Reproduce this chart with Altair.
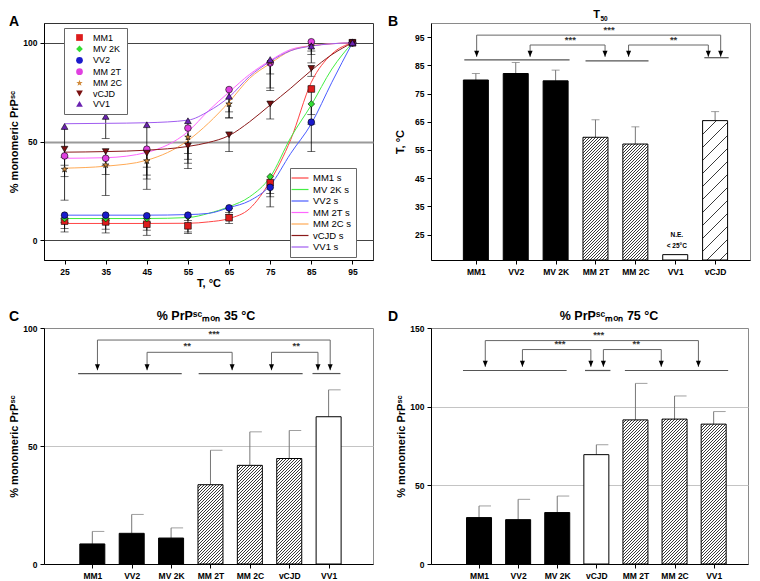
import altair as alt
import pandas as pd

FONT = "Liberation Sans"

# ---------------- Panel A data ----------------
TEMPS = [25, 35, 45, 55, 65, 75, 85, 95]
SERIES = ["MM1", "MV 2K", "VV2", "MM 2T", "MM 2C", "vCJD", "VV1"]
A_MM1 = [9.7, 9.3, 8.1, 7.3, 11.4, 29.2, 76.6, 100]
A_MV2K = [11.0, 11.0, 11.0, 11.9, 16.1, 32.2, 69.0, 100]
A_VV2 = [12.7, 12.7, 12.4, 12.7, 16.4, 26.8, 59.8, 100]
A_MM2T = [42.7, 41.5, 46.1, 56.8, 76.3, 89.8, 100.5, 100]
A_MM2C = [35.9, 38.1, 40.2, 52.2, 69.0, 90.3, 98.3, 100]
A_VCJD = [46.1, 44.9, 44.1, 47.8, 53.4, 69.0, 87.0, 100]
A_VV1 = [57.6, 62.7, 58.5, 60.5, 72.9, 91.5, 98.3, 100]
# lower ends of the error bars
L_MM1 = [4.2, 3.7, 2.5, 3.4, 8.5, 16.9, 63.6, 100]
L_MV2K = [5.9, 5.6, 5.1, 4.2, 13.0, 23.7, 58.8, 100]
L_VV2 = [9.0, 10.0, 9.0, 10.0, 14.0, 22.0, 44.9, 100]
L_MM2T = [38.0, 33.3, 33.0, 39.0, 65.0, 84.2, 95.8, 100]
L_MM2C = [32.2, 22.7, 31.0, 36.3, 61.9, 77.1, 94.0, 100]
L_VCJD = [42.0, 37.9, 37.0, 41.0, 44.9, 61.4, 83.0, 100]
L_VV1 = [20.3, 51.5, 25.8, 43.9, 62.0, 75.8, 89.8, 100]
# fitted sigmoid curves
FIT_T = [25, 35, 45, 55, 60, 65, 70, 75, 80, 85, 90, 95]
F_MM1 = [8.5, 8.5, 8.5, 8.6, 9.3, 11.0, 16.0, 30.0, 51.0, 80.0, 94.3, 100]
F_MV2K = [11.0, 11.0, 11.0, 11.5, 13.6, 17.0, 22.0, 32.0, 52.0, 68.5, 86.7, 100]
F_VV2 = [12.7, 12.7, 12.7, 13.0, 13.6, 16.5, 20.0, 27.8, 44.0, 59.0, 80.0, 100]
F_MM2T = [41.5, 41.8, 44.5, 55.0, 65.6, 75.0, 84.0, 91.0, 96.6, 98.5, 99.5, 100]
F_MM2C = [36.5, 37.5, 40.5, 50.5, 59.3, 70.0, 82.0, 89.5, 96.0, 98.5, 99.5, 100]
F_VCJD = [44.6, 44.9, 45.6, 47.5, 49.5, 53.0, 60.0, 68.5, 77.0, 86.0, 94.0, 100]
F_VV1 = [59.0, 59.2, 59.5, 60.8, 65.3, 72.5, 83.0, 90.5, 96.0, 98.3, 99.5, 100]

PT_COLORS = ["#dd1c1c", "#33dd33", "#1a1acc", "#e040e0", "#d08a3a", "#7a1010", "#6a22b0"]
LINE_COLORS = ["#ff4444", "#44ee44", "#4a5cff", "#ff66ff", "#ffaa55", "#8b1a1a", "#a05cf0"]
STAR = ("M0,-1L0.235,-0.324L0.951,-0.309L0.38,0.124L0.588,0.809L0,0.4L-0.588,0.809"
        "L-0.38,0.124L-0.951,-0.309L-0.235,-0.324Z")
SHAPES = ["square", "diamond", "circle", "circle", STAR, "triangle-down", "triangle-up"]

# ---------------- Panel B data ----------------
B_CATS = ["MM1", "VV2", "MV 2K", "MM 2T", "MM 2C", "VV1", "vCJD"]
B_VALS = [79.8, 82.1, 79.5, 59.5, 57.1, 17.9, 65.4]
B_ERR = [82.1, 86.0, 83.3, 65.7, 63.2, None, 68.6]
B_FILL = ["solid", "solid", "solid", "dense", "dense", "open", "sparse"]
B_GRP_X1 = [0.71, 3.75, 6.73]
B_GRP_X2 = [3.35, 5.33, 7.34]
B_GRP_Y = [86.9, 86.6, 87.7]
B_BRK_X1 = [1.02, 2.36, 4.83]
B_BRK_X2 = [7.14, 4.24, 6.83]
B_BRK_Y = [95.7, 92.2, 92.2]
B_SIG = ["***", "***", "**"]
B_SIG_X = [4.34, 3.37, 5.96]
B_SIG_Y = [97.6, 94.1, 94.1]
B_TIP = 88.0
B_NOTE = ["N.E.", "< 25°C"]
B_NOTE_Y = [24.9, 21.1]

# ---------------- Panel C data ----------------
C_CATS = ["MM1", "VV2", "MV 2K", "MM 2T", "MM 2C", "vCJD", "VV1"]
C_VALS = [8.5, 13.0, 11.0, 33.6, 41.8, 44.7, 62.4]
C_ERR = [13.8, 21.0, 15.3, 48.2, 56.0, 56.6, 73.8]
C_FILL = ["solid", "solid", "solid", "dense", "dense", "dense", "open"]
C_GRP_X1 = [0.64, 3.70, 6.59]
C_GRP_X2 = [3.27, 6.34, 7.30]
C_GRP_Y = [80.7, 80.7, 80.7]
C_BRK_X1 = [1.13, 2.39, 5.55]
C_BRK_X2 = [7.04, 4.55, 6.73]
C_BRK_Y = [94.9, 89.7, 89.7]
C_SIG = ["***", "**", "**"]
C_SIG_X = [4.09, 3.41, 6.18]
C_SIG_Y = [97.6, 92.3, 92.3]
C_TIP = 82.1

# ---------------- Panel D data ----------------
D_CATS = ["MM1", "VV2", "MV 2K", "vCJD", "MM 2T", "MM 2C", "VV1"]
D_VALS = [29.5, 28.2, 32.7, 69.5, 91.6, 92.1, 88.9]
D_ERR = [36.9, 41.1, 43.2, 75.8, 114.8, 106.8, 96.9]
D_FILL = ["solid", "solid", "solid", "open", "dense", "dense", "dense"]
D_GRP_X1 = [0.59, 3.71, 4.73]
D_GRP_X2 = [3.24, 4.36, 7.37]
D_GRP_Y = [123.0, 123.0, 123.0]
D_BRK_X1 = [1.16, 2.11, 4.18]
D_BRK_X2 = [6.61, 3.86, 5.66]
D_BRK_Y = [142.0, 136.3, 136.3]
D_SIG = ["***", "***", "**"]
D_SIG_X = [4.06, 3.07, 5.02]
D_SIG_Y = [145.4, 139.7, 139.7]
D_TIP = 125.3

BAR_W = 25
ARROW = "M-1,-2.4L1,-2.4L0,0Z"
LEG_LINE = "M-2,0L2,0"
YTITLE = "% monomeric PrPˢᶜ"


def hatch(w, h, period, frac, dark="#3a3a3a", light="#ffffff"):
    """Diagonal '/' stripes as a linear gradient in bounding-box units."""
    h = max(h, 1.0)
    c = h * (w + h) / (w * w + h * h)
    span = w + h
    P = period / span
    stops = []
    k = 0
    while k * P < 1 - 1e-9:
        s = k * P
        e = min(s + frac * P, 1.0)
        n = min(s + P, 1.0)
        stops += [{"offset": round(s, 6), "color": dark},
                  {"offset": round(e, 6), "color": dark},
                  {"offset": round(e, 6), "color": light},
                  {"offset": round(n, 6), "color": light}]
        k += 1
    return {"gradient": "linear", "x1": 0, "y1": 0,
            "x2": round(c * w / h, 6), "y2": round(c, 6), "stops": stops}


def text_layer(txt, x, y, size, align="left", baseline="middle", weight="bold"):
    return alt.Chart(alt.Data(values=[{"t": txt}])).mark_text(
        font=FONT, fontSize=size, fontWeight=weight, align=align, baseline=baseline,
        color="black").encode(text="t:N", x=alt.value(x), y=alt.value(y))


# ---------------- Panel A ----------------
a_vals = [A_MM1, A_MV2K, A_VV2, A_MM2T, A_MM2C, A_VCJD, A_VV1]
a_low = [L_MM1, L_MV2K, L_VV2, L_MM2T, L_MM2C, L_VCJD, L_VV1]
a_fit = [F_MM1, F_MV2K, F_VV2, F_MM2T, F_MM2C, F_VCJD, F_VV1]
FITS = [s + " s" for s in SERIES]

pts, errs, fits = [], [], []
for s, vals, lows, fv in zip(SERIES, a_vals, a_low, a_fit):
    for t, v, lo in zip(TEMPS, vals, lows):
        pts.append({"T": t, "v": v, "s": s})
        if lo < v:
            errs.append({"T": t, "v": v, "lo": lo})
    for t, v in zip(FIT_T, fv):
        fits.append({"T": t, "v": v, "f": s + " s"})

xsA = alt.Scale(domain=[20, 100], nice=False, zero=False)
ysA = alt.Scale(domain=[-10, 110], nice=False, zero=False)
axA_x = alt.Axis(values=TEMPS, title="T, °C", grid=False, titlePadding=2)
axA_y = alt.Axis(values=[0, 50, 100], title=YTITLE, grid=True, titlePadding=3,
                 gridColor={"condition": {"test": "datum.value === 50", "value": "#9a9a9a"},
                            "value": "#444444"},
                 gridWidth={"condition": {"test": "datum.value === 50", "value": 1.8},
                            "value": 1})


def XA(f):
    return alt.X(f, scale=xsA, axis=axA_x)


def YA(f):
    return alt.Y(f, scale=ysA, axis=axA_y)


errA = alt.Chart(alt.Data(values=errs)).mark_rule(color="black", strokeWidth=0.8).encode(
    x=XA("T:Q"), y=YA("v:Q"), y2="lo:Q")
capA = alt.Chart(alt.Data(values=errs)).mark_tick(
    orient="horizontal", size=8, thickness=0.8, color="black").encode(x=XA("T:Q"), y=YA("lo:Q"))
lineA = alt.Chart(alt.Data(values=fits)).mark_line(strokeWidth=1, interpolate="monotone").encode(
    x=XA("T:Q"), y=YA("v:Q"),
    stroke=alt.Stroke("f:N", scale=alt.Scale(domain=FITS, range=LINE_COLORS),
                      legend=alt.Legend(orient="none", legendX=246, legendY=145, title=None,
                                        symbolType=LEG_LINE, symbolSize=72, symbolStrokeWidth=1.2,
                                        labelFont=FONT, labelFontSize=9.5, labelOffset=8,
                                        rowPadding=1.5, padding=5, fillColor="white",
                                        strokeColor="#666666")))
legP = alt.Legend(orient="none", legendX=20, legendY=5, title=None, labelFont=FONT,
                  labelFontSize=9, labelOffset=9, rowPadding=0.4, padding=5, symbolOffset=6,
                  fillColor="white", strokeColor="#666666", symbolStrokeColor="black",
                  symbolStrokeWidth=0.6, symbolSize=45)
ptsA = alt.Chart(alt.Data(values=pts)).mark_point(
    filled=True, size=45, stroke="black", strokeWidth=0.6, opacity=1).encode(
    x=XA("T:Q"), y=YA("v:Q"),
    fill=alt.Fill("s:N", scale=alt.Scale(domain=SERIES, range=PT_COLORS), legend=legP),
    shape=alt.Shape("s:N", scale=alt.Scale(domain=SERIES, range=SHAPES), legend=legP))

chartA = alt.layer(errA, capA, lineA, ptsA, text_layer("A", -35, -1, 14)).properties(
    width=329, height=237, view=alt.ViewBackground(stroke="#333333"))


# ---------------- bar panels ----------------
def bar_panel(title_layers, ytitle_pad, ytitle, cats, vals, errs_, fills,
              ymin, ymax, xdom, yvalues, gridvals, width, height, gx1, gx2, gy, bx1, bx2, by,
              sig, sx, sy, tip, cap_offset, cap_size, extra=None):
    idx = list(range(1, len(cats) + 1))
    bars = []
    for i, v, f in zip(idx, vals, fills):
        hpx = (v - ymin) / (ymax - ymin) * height
        if f == "solid":
            fill = "black"
        elif f == "open":
            fill = "white"
        elif f == "dense":
            fill = hatch(BAR_W, hpx, 3.0, 0.34)
        else:
            fill = hatch(BAR_W, hpx, 13.0, 0.09)
        bars.append({"i": i, "v": v, "fill": fill})
    erecs = [{"i": i, "v": v, "e": e} for i, v, e in zip(idx, vals, errs_) if e is not None]

    xs = alt.Scale(domain=xdom, nice=False, zero=False)
    ys = alt.Scale(domain=[ymin, ymax], nice=False, zero=False)
    label_expr = "[" + ",".join(["''"] + ["'%s'" % c for c in cats]) + "][datum.value]"
    ax_x = alt.Axis(values=idx, labelExpr=label_expr, title=None, grid=False)
    if gridvals:
        test = "indexof(%s, datum.value) >= 0" % str(gridvals)
        ax_y = alt.Axis(values=yvalues, title=ytitle, titlePadding=ytitle_pad, grid=True,
                        gridColor={"condition": {"test": test, "value": "#c4c4c4"},
                                   "value": "transparent"}, gridWidth=1)
    else:
        ax_y = alt.Axis(values=yvalues, title=ytitle, titlePadding=ytitle_pad, grid=False)

    def X(f):
        return alt.X(f, scale=xs, axis=ax_x)

    def Y(f):
        return alt.Y(f, scale=ys, axis=ax_y)

    layers = []
    layers.append(alt.Chart(alt.Data(values=erecs)).mark_rule(color="#777777", strokeWidth=1).encode(
        x=X("i:Q"), y=Y("v:Q"), y2="e:Q"))
    layers.append(alt.Chart(alt.Data(values=erecs)).mark_tick(
        orient="horizontal", size=cap_size, thickness=1, color="#777777", xOffset=cap_offset).encode(
        x=X("i:Q"), y=Y("e:Q")))
    layers.append(alt.Chart(alt.Data(values=bars)).mark_bar(
        size=BAR_W, stroke="black", strokeWidth=1).encode(
        x=X("i:Q"), y=Y("v:Q"), y2=alt.datum(ymin), fill=alt.Fill("fill:N", scale=None)))

    grp = [{"x1": a, "x2": b, "y": c} for a, b, c in zip(gx1, gx2, gy)]
    brk = [{"x1": a, "x2": b, "y": c} for a, b, c in zip(bx1, bx2, by)]
    legs = []
    for a, b, c in zip(bx1, bx2, by):
        legs.append({"x": a, "y": c, "t": tip})
        legs.append({"x": b, "y": c, "t": tip})
    sigs = [{"x": a, "y": b, "s": c} for a, b, c in zip(sx, sy, sig)]

    layers.append(alt.Chart(alt.Data(values=grp)).mark_rule(color="#555555", strokeWidth=1.2).encode(
        x=X("x1:Q"), x2="x2:Q", y=Y("y:Q")))
    layers.append(alt.Chart(alt.Data(values=brk)).mark_rule(color="#666666", strokeWidth=1).encode(
        x=X("x1:Q"), x2="x2:Q", y=Y("y:Q")))
    layers.append(alt.Chart(alt.Data(values=legs)).mark_rule(color="#666666", strokeWidth=1).encode(
        x=X("x:Q"), y=Y("y:Q"), y2="t:Q"))
    layers.append(alt.Chart(alt.Data(values=legs)).mark_point(
        shape=ARROW, size=25, filled=True, color="black", opacity=1, strokeWidth=0).encode(
        x=X("x:Q"), y=Y("t:Q")))
    layers.append(alt.Chart(alt.Data(values=sigs)).mark_text(
        font=FONT, fontSize=9.5, fontWeight="bold", color="#333333", baseline="middle").encode(
        x=X("x:Q"), y=Y("y:Q"), text="s:N"))
    if extra is not None:
        layers.append(extra(X, Y))
    layers.extend(title_layers)
    return alt.layer(*layers).properties(width=width, height=height)


def note_layer(X, Y):
    recs = [{"x": 6.04, "y": y, "t": t} for t, y in zip(B_NOTE, B_NOTE_Y)]
    return alt.Chart(alt.Data(values=recs)).mark_text(
        font=FONT, fontSize=6.5, fontWeight="bold", baseline="middle").encode(
        x=X("x:Q"), y=Y("y:Q"), text="t:N")


titleB = [text_layer("B", -43, -1, 14),
          text_layer("T", 169, -5, 11, align="right", baseline="alphabetic"),
          text_layer("50", 169.5, -2, 6.5, align="left", baseline="alphabetic")]
titleC = [text_layer("C", -35, -11, 14),
          text_layer("% PrPˢᶜₘₒₙ 35 °C", 162, -8, 12.5, align="center", baseline="alphabetic")]
titleD = [text_layer("D", -43, -11, 14),
          text_layer("% PrPˢᶜₘₒₙ 75 °C", 178, -8, 12.5, align="center", baseline="alphabetic")]

chartB = bar_panel(titleB, 9, "T, °C", B_CATS, B_VALS, B_ERR, B_FILL, 16, 100,
                   [0, 7.75], [25, 35, 45, 55, 65, 75, 85, 95], None, 319, 237,
                   B_GRP_X1, B_GRP_X2, B_GRP_Y, B_BRK_X1, B_BRK_X2, B_BRK_Y,
                   B_SIG, B_SIG_X, B_SIG_Y, B_TIP, 0, 8, extra=note_layer)
chartC = bar_panel(titleC, 3, YTITLE, C_CATS, C_VALS, C_ERR,
                   C_FILL, 0, 100, [-0.1, 8], [0, 50, 100], [50], 329, 236,
                   C_GRP_X1, C_GRP_X2, C_GRP_Y, C_BRK_X1, C_BRK_X2, C_BRK_Y,
                   C_SIG, C_SIG_X, C_SIG_Y, C_TIP, 6, 12)
chartD = bar_panel(titleD, 3, YTITLE, D_CATS, D_VALS, D_ERR,
                   D_FILL, 0, 150, [-0.1, 7.75], [0, 50, 100, 150], [50, 100], 317, 236,
                   D_GRP_X1, D_GRP_X2, D_GRP_Y, D_BRK_X1, D_BRK_X2, D_BRK_Y,
                   D_SIG, D_SIG_X, D_SIG_Y, D_TIP, 6, 12)

chart = alt.concat(chartA, chartB, chartC, chartD, columns=2,
                   spacing={"row": 20, "column": 13}).properties(
    padding={"left": 0, "top": 0, "right": 0, "bottom": 0}
).configure_axis(
    labelFont=FONT, titleFont=FONT, labelFontWeight="bold", titleFontWeight="bold",
    labelFontSize=8.5, titleFontSize=11, labelColor="black", titleColor="black",
    tickColor="black", domainColor="black", tickSize=4, labelPadding=3, domainWidth=1
).configure_view(stroke="#8a8a8a")

chart.save("out.html", embed_options={"renderer": "svg", "actions": False})
